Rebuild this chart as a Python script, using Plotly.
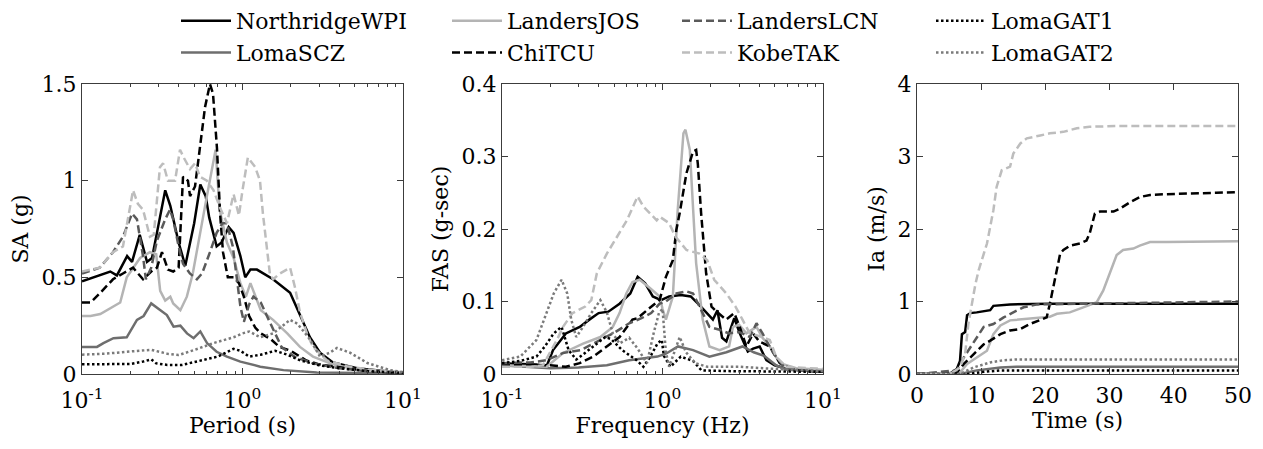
import plotly.graph_objects as go

# ---------------- Panel 1: spectral acceleration SA (g) vs period (s) ----------------
SA_T_NorthridgeWPI = [0.1, 0.13, 0.15, 0.165, 0.191, 0.205, 0.229, 0.254, 0.273, 0.293, 0.33, 0.355, 0.40, 0.44, 0.50, 0.546, 0.59, 0.62, 0.69, 0.74, 0.82, 0.88, 0.97, 1.04, 1.12, 1.23, 1.4, 1.55, 1.98, 2.28, 2.63, 3.04, 3.66, 5.17, 10]
SA_NorthridgeWPI = [0.48, 0.51, 0.53, 0.51, 0.61, 0.58, 0.72, 0.58, 0.60, 0.73, 0.95, 0.87, 0.68, 0.56, 0.78, 0.98, 0.92, 0.81, 0.66, 0.68, 0.76, 0.73, 0.61, 0.50, 0.54, 0.54, 0.51, 0.49, 0.42, 0.31, 0.19, 0.11, 0.06, 0.03, 0.005]

SA_T_LomaSCZ = [0.1, 0.124, 0.136, 0.157, 0.19, 0.22, 0.242, 0.27, 0.308, 0.338, 0.372, 0.41, 0.451, 0.496, 0.546, 0.601, 0.69, 0.80, 0.97, 1.29, 1.8, 2.9, 10]
SA_LomaSCZ = [0.14, 0.14, 0.16, 0.185, 0.19, 0.28, 0.30, 0.365, 0.33, 0.305, 0.245, 0.25, 0.21, 0.185, 0.22, 0.16, 0.115, 0.09, 0.064, 0.038, 0.02, 0.008, 0.003]

SA_T_LandersJOS = [0.1, 0.113, 0.13, 0.156, 0.173, 0.19, 0.21, 0.23, 0.265, 0.29, 0.307, 0.33, 0.355, 0.37, 0.41, 0.45, 0.49, 0.546, 0.60, 0.68, 0.72, 0.80, 0.88, 0.97, 1.05, 1.12, 1.2, 1.3, 1.55, 1.9, 2.28, 2.75, 3.66, 5, 10]
SA_LandersJOS = [0.30, 0.30, 0.31, 0.35, 0.37, 0.50, 0.55, 0.60, 0.63, 0.62, 0.43, 0.38, 0.40, 0.365, 0.33, 0.40, 0.52, 0.74, 0.92, 1.16, 0.85, 0.68, 0.60, 0.47, 0.40, 0.47, 0.40, 0.33, 0.28, 0.21, 0.14, 0.09, 0.05, 0.025, 0.008]

SA_T_ChiTCU = [0.1, 0.113, 0.13, 0.156, 0.18, 0.208, 0.24, 0.27, 0.293, 0.315, 0.343, 0.37, 0.40, 0.408, 0.426, 0.457, 0.471, 0.506, 0.543, 0.584, 0.627, 0.655, 0.693, 0.725, 0.756, 0.81, 0.88, 0.95, 1.02, 1.1, 1.2, 1.3, 1.5, 1.7, 2.0, 2.5, 3.0, 4.0, 6, 10]
SA_ChiTCU = [0.37, 0.37, 0.42, 0.49, 0.52, 0.55, 0.49, 0.53, 0.55, 0.63, 0.54, 0.53, 0.55, 0.71, 1.02, 1.0, 0.92, 0.97, 1.17, 1.38, 1.50, 1.45, 1.17, 0.83, 0.63, 0.50, 0.50, 0.47, 0.40, 0.30, 0.24, 0.21, 0.18, 0.14, 0.12, 0.07, 0.05, 0.035, 0.015, 0.005]

SA_T_LandersLCN = [0.1, 0.129, 0.156, 0.18, 0.205, 0.22, 0.24, 0.25, 0.27, 0.293, 0.33, 0.353, 0.37, 0.40, 0.426, 0.47, 0.52, 0.56, 0.627, 0.69, 0.75, 0.80, 0.87, 0.92, 0.97, 1.02, 1.1, 1.17, 1.3, 1.42, 1.55, 1.75, 2.1, 2.75, 4.0, 6, 10]
SA_LandersLCN = [0.52, 0.55, 0.63, 0.71, 0.83, 0.80, 0.61, 0.49, 0.55, 0.69, 0.80, 0.85, 0.80, 0.66, 0.57, 0.52, 0.49, 0.52, 0.63, 0.73, 0.78, 0.78, 0.66, 0.49, 0.35, 0.27, 0.36, 0.40, 0.37, 0.30, 0.23, 0.14, 0.09, 0.055, 0.03, 0.015, 0.005]

SA_T_KobeTAK = [0.1, 0.129, 0.156, 0.18, 0.208, 0.223, 0.24, 0.265, 0.28, 0.306, 0.32, 0.343, 0.38, 0.408, 0.43, 0.471, 0.506, 0.543, 0.60, 0.66, 0.725, 0.80, 0.88, 0.95, 1.0, 1.08, 1.2, 1.285, 1.34, 1.42, 1.48, 1.55, 1.71, 1.98, 2.12, 2.28, 2.52, 2.75, 3.36, 4.48, 6.5, 10]
SA_KobeTAK = [0.53, 0.55, 0.63, 0.66, 0.95, 0.88, 0.85, 0.71, 0.72, 1.07, 1.09, 1.0, 1.0, 1.16, 1.12, 1.06, 1.09, 1.02, 1.0, 0.95, 0.86, 0.78, 0.93, 0.82, 0.95, 1.12, 1.07, 1.0, 0.83, 0.66, 0.52, 0.49, 0.52, 0.55, 0.45, 0.32, 0.21, 0.14, 0.07, 0.04, 0.02, 0.01]

SA_T_LomaGAT1 = [0.1, 0.15, 0.2, 0.24, 0.27, 0.29, 0.34, 0.42, 0.55, 0.7, 0.88, 0.97, 1.1, 1.3, 1.6, 1.9, 2.3, 3, 4, 6, 10]
SA_LomaGAT1 = [0.05, 0.05, 0.052, 0.064, 0.076, 0.055, 0.047, 0.047, 0.07, 0.09, 0.13, 0.12, 0.09, 0.10, 0.12, 0.10, 0.07, 0.045, 0.03, 0.015, 0.006]

SA_T_LomaGAT2 = [0.1, 0.14, 0.19, 0.24, 0.27, 0.34, 0.40, 0.50, 0.66, 0.88, 1.0, 1.1, 1.29, 1.55, 1.98, 2.2, 2.63, 3.04, 3.5, 3.88, 4.68, 6, 8.3, 10]
SA_LomaGAT2 = [0.10, 0.105, 0.115, 0.12, 0.125, 0.105, 0.098, 0.124, 0.16, 0.19, 0.21, 0.22, 0.19, 0.21, 0.28, 0.26, 0.18, 0.09, 0.11, 0.135, 0.11, 0.057, 0.02, 0.01]

# ---------------- Panel 2: Fourier amplitude spectrum FAS (g-sec) vs frequency (Hz) ----------------
FAS_F_NorthridgeWPI = [0.1, 0.129, 0.164, 0.189, 0.208, 0.25, 0.305, 0.35, 0.40, 0.46, 0.54, 0.63, 0.70, 0.78, 0.87, 0.98, 1.1, 1.3, 1.5, 1.7, 1.9, 2.06, 2.2, 2.35, 2.5, 2.8, 3.03, 3.4, 3.67, 4.03, 4.44, 5.0, 6, 10]
FAS_NorthridgeWPI = [0.015, 0.014, 0.013, 0.01, 0.033, 0.056, 0.065, 0.075, 0.084, 0.086, 0.097, 0.111, 0.134, 0.125, 0.107, 0.102, 0.107, 0.109, 0.107, 0.095, 0.084, 0.075, 0.088, 0.05, 0.045, 0.077, 0.056, 0.031, 0.035, 0.038, 0.019, 0.012, 0.007, 0.003]

FAS_F_LomaSCZ = [0.1, 0.15, 0.2, 0.3, 0.45, 0.62, 0.93, 1.05, 1.25, 1.55, 1.96, 2.5, 3.15, 3.7, 4.3, 5.1, 6, 10]
FAS_LomaSCZ = [0.012, 0.01, 0.008, 0.009, 0.012, 0.019, 0.024, 0.028, 0.038, 0.033, 0.024, 0.03, 0.038, 0.03, 0.025, 0.012, 0.006, 0.003]

FAS_F_LandersJOS = [0.1, 0.15, 0.19, 0.24, 0.32, 0.41, 0.49, 0.54, 0.595, 0.65, 0.72, 0.82, 0.96, 1.0, 1.05, 1.16, 1.24, 1.35, 1.39, 1.48, 1.55, 1.62, 1.78, 1.96, 2.27, 2.6, 2.75, 3.0, 3.33, 3.85, 4.2, 4.66, 5.38, 6.8, 10]
FAS_LandersJOS = [0.012, 0.011, 0.01, 0.029, 0.042, 0.051, 0.065, 0.084, 0.111, 0.127, 0.13, 0.12, 0.107, 0.09, 0.075, 0.107, 0.222, 0.332, 0.337, 0.309, 0.23, 0.153, 0.075, 0.038, 0.033, 0.038, 0.065, 0.068, 0.056, 0.065, 0.05, 0.038, 0.015, 0.008, 0.006]

FAS_F_ChiTCU = [0.1, 0.15, 0.2, 0.25, 0.305, 0.37, 0.45, 0.54, 0.65, 0.70, 0.80, 0.96, 1.01, 1.05, 1.16, 1.22, 1.28, 1.41, 1.55, 1.62, 1.66, 1.74, 1.87, 2.02, 2.2, 2.49, 2.8, 3.03, 3.33, 3.67, 4.0, 4.66, 5.38, 6.5, 10]
FAS_ChiTCU = [0.013, 0.013, 0.012, 0.01, 0.015, 0.024, 0.038, 0.051, 0.075, 0.077, 0.088, 0.102, 0.12, 0.134, 0.157, 0.199, 0.222, 0.277, 0.307, 0.309, 0.29, 0.222, 0.139, 0.093, 0.085, 0.075, 0.084, 0.065, 0.038, 0.056, 0.045, 0.038, 0.015, 0.006, 0.003]

FAS_F_LandersLCN = [0.1, 0.15, 0.19, 0.24, 0.31, 0.41, 0.51, 0.62, 0.74, 0.85, 0.93, 0.96, 1.05, 1.22, 1.41, 1.55, 1.78, 1.96, 2.27, 2.6, 3.0, 3.5, 3.85, 4.2, 4.9, 5.7, 7, 10]
FAS_LandersLCN = [0.015, 0.016, 0.019, 0.029, 0.033, 0.047, 0.058, 0.07, 0.077, 0.084, 0.093, 0.097, 0.10, 0.111, 0.114, 0.111, 0.084, 0.065, 0.061, 0.056, 0.058, 0.051, 0.07, 0.056, 0.029, 0.01, 0.005, 0.003]

FAS_F_KobeTAK = [0.1, 0.15, 0.18, 0.22, 0.24, 0.275, 0.33, 0.36, 0.39, 0.45, 0.52, 0.60, 0.70, 0.76, 0.92, 0.96, 1.1, 1.2, 1.41, 1.7, 1.9, 2.1, 2.5, 2.85, 3.15, 3.5, 4.03, 4.66, 5.1, 5.9, 10]
FAS_KobeTAK = [0.01, 0.01, 0.012, 0.047, 0.065, 0.084, 0.093, 0.102, 0.139, 0.166, 0.189, 0.212, 0.245, 0.231, 0.212, 0.217, 0.208, 0.19, 0.171, 0.166, 0.157, 0.13, 0.111, 0.093, 0.075, 0.056, 0.052, 0.047, 0.024, 0.01, 0.007]

FAS_F_LomaGAT1 = [0.1, 0.13, 0.164, 0.185, 0.21, 0.235, 0.26, 0.29, 0.32, 0.39, 0.44, 0.48, 0.56, 0.69, 0.76, 0.84, 0.93, 0.99, 1.02, 1.12, 1.3, 1.55, 1.75, 2.5, 10]
FAS_LomaGAT1 = [0.015, 0.018, 0.024, 0.038, 0.056, 0.065, 0.033, 0.02, 0.027, 0.042, 0.051, 0.048, 0.033, 0.019, 0.01, 0.024, 0.042, 0.047, 0.025, 0.01, 0.024, 0.018, 0.005, 0.004, 0.003]

FAS_F_LomaGAT2 = [0.1, 0.13, 0.164, 0.19, 0.21, 0.235, 0.255, 0.27, 0.29, 0.32, 0.36, 0.41, 0.45, 0.49, 0.54, 0.62, 0.70, 0.80, 0.88, 0.95, 1.0, 1.05, 1.1, 1.28, 1.4, 1.6, 1.9, 3, 5, 10]
FAS_LomaGAT2 = [0.019, 0.024, 0.047, 0.084, 0.111, 0.13, 0.111, 0.075, 0.051, 0.065, 0.084, 0.102, 0.085, 0.056, 0.042, 0.05, 0.035, 0.015, 0.056, 0.084, 0.09, 0.03, 0.01, 0.051, 0.03, 0.015, 0.01, 0.01, 0.007, 0.004]

# ---------------- Panel 3: Arias intensity Ia (m/s) vs time (s) ----------------
IA_T_NorthridgeWPI = [0, 5.2, 6.2, 6.7, 7.0, 7.5, 7.8, 8.3, 9.3, 11.4, 11.9, 14.5, 20.7, 50]
IA_NorthridgeWPI = [0, 0.01, 0.07, 0.18, 0.55, 0.58, 0.81, 0.84, 0.85, 0.88, 0.94, 0.96, 0.97, 0.97]

IA_T_LomaSCZ = [0, 6.7, 9.3, 13.0, 15.5, 50]
IA_LomaSCZ = [0, 0, 0.05, 0.09, 0.10, 0.10]

IA_T_LandersJOS = [0, 6.7, 7.8, 9.3, 10.9, 11.9, 13.0, 14.5, 16.6, 18.7, 20.7, 21.8, 23.8, 25.9, 28.0, 29.0, 29.8, 30.6, 31.1, 32.1, 33.7, 34.7, 36.3, 38.9, 50]
IA_LandersJOS = [0, 0.02, 0.14, 0.23, 0.32, 0.55, 0.67, 0.74, 0.76, 0.78, 0.79, 0.83, 0.85, 0.92, 0.99, 1.15, 1.34, 1.52, 1.64, 1.71, 1.73, 1.77, 1.82, 1.82, 1.83]

IA_T_ChiTCU = [0, 6.2, 7.3, 8.3, 9.3, 10.4, 11.4, 13.0, 14.5, 16.1, 17.6, 19.2, 20.2, 20.7, 21.2, 21.8, 22.3, 22.8, 23.8, 25.4, 26.4, 26.9, 27.7, 28.5, 30.6, 31.6, 33.2, 34.7, 36.3, 38.9, 41.5, 46.6, 50]
IA_ChiTCU = [0, 0.02, 0.14, 0.23, 0.32, 0.41, 0.46, 0.55, 0.60, 0.62, 0.69, 0.74, 0.78, 0.97, 1.20, 1.43, 1.66, 1.71, 1.77, 1.80, 1.84, 1.94, 2.21, 2.24, 2.24, 2.28, 2.37, 2.44, 2.47, 2.48, 2.49, 2.50, 2.51]

IA_T_LandersLCN = [0, 6.2, 7.3, 8.3, 9.3, 10.4, 11.9, 13.5, 15.0, 16.6, 18.7, 25.9, 50]
IA_LandersLCN = [0, 0.05, 0.23, 0.37, 0.51, 0.65, 0.69, 0.78, 0.85, 0.92, 0.96, 0.97, 1.0]

IA_T_KobeTAK = [0, 5.2, 6.7, 7.5, 8.0, 8.5, 9.1, 9.6, 10.4, 10.9, 11.4, 11.9, 12.4, 13.2, 14.5, 15.0, 16.1, 17.1, 19.2, 20.7, 22.8, 24.9, 26.9, 31.1, 50]
IA_KobeTAK = [0, 0, 0.09, 0.28, 0.69, 0.97, 1.24, 1.43, 1.66, 1.80, 2.03, 2.26, 2.58, 2.81, 2.86, 3.04, 3.18, 3.25, 3.29, 3.32, 3.34, 3.39, 3.41, 3.42, 3.42]

IA_T_LomaGAT1 = [0, 7.8, 10.4, 13.0, 50]
IA_LomaGAT1 = [0, 0, 0.03, 0.05, 0.05]

IA_T_LomaGAT2 = [0, 6.7, 8.8, 11.4, 13.5, 15.5, 50]
IA_LomaGAT2 = [0, 0, 0.09, 0.16, 0.19, 0.20, 0.20]

# ---------------- series styles ----------------
NAMES = ["NorthridgeWPI", "LomaSCZ", "LandersJOS", "ChiTCU", "LandersLCN", "KobeTAK", "LomaGAT1", "LomaGAT2"]
COLORS = ["#000000", "#6e6e6e", "#b4b4b4", "#000000", "#5a5a5a", "#bdbdbd", "#000000", "#7a7a7a"]
DASHES = ["solid", "solid", "solid", "8px,4px", "8px,4px", "8px,4px", "2.5px,2.5px", "2.5px,2.5px"]
LEGENDS = ["legend", "legend", "legend2", "legend2", "legend3", "legend3", "legend4", "legend4"]

SA_DATA = {
    "NorthridgeWPI": (SA_T_NorthridgeWPI, SA_NorthridgeWPI),
    "LomaSCZ": (SA_T_LomaSCZ, SA_LomaSCZ),
    "LandersJOS": (SA_T_LandersJOS, SA_LandersJOS),
    "ChiTCU": (SA_T_ChiTCU, SA_ChiTCU),
    "LandersLCN": (SA_T_LandersLCN, SA_LandersLCN),
    "KobeTAK": (SA_T_KobeTAK, SA_KobeTAK),
    "LomaGAT1": (SA_T_LomaGAT1, SA_LomaGAT1),
    "LomaGAT2": (SA_T_LomaGAT2, SA_LomaGAT2),
}
FAS_DATA = {
    "NorthridgeWPI": (FAS_F_NorthridgeWPI, FAS_NorthridgeWPI),
    "LomaSCZ": (FAS_F_LomaSCZ, FAS_LomaSCZ),
    "LandersJOS": (FAS_F_LandersJOS, FAS_LandersJOS),
    "ChiTCU": (FAS_F_ChiTCU, FAS_ChiTCU),
    "LandersLCN": (FAS_F_LandersLCN, FAS_LandersLCN),
    "KobeTAK": (FAS_F_KobeTAK, FAS_KobeTAK),
    "LomaGAT1": (FAS_F_LomaGAT1, FAS_LomaGAT1),
    "LomaGAT2": (FAS_F_LomaGAT2, FAS_LomaGAT2),
}
IA_DATA = {
    "NorthridgeWPI": (IA_T_NorthridgeWPI, IA_NorthridgeWPI),
    "LomaSCZ": (IA_T_LomaSCZ, IA_LomaSCZ),
    "LandersJOS": (IA_T_LandersJOS, IA_LandersJOS),
    "ChiTCU": (IA_T_ChiTCU, IA_ChiTCU),
    "LandersLCN": (IA_T_LandersLCN, IA_LandersLCN),
    "KobeTAK": (IA_T_KobeTAK, IA_KobeTAK),
    "LomaGAT1": (IA_T_LomaGAT1, IA_LomaGAT1),
    "LomaGAT2": (IA_T_LomaGAT2, IA_LomaGAT2),
}

FONT = "DejaVu Serif"
W, H = 1263, 449

fig = go.Figure()
LW = 2.5
for i, name in enumerate(NAMES):
    style = dict(color=COLORS[i], width=LW, dash=DASHES[i])
    x, y = SA_DATA[name]
    fig.add_trace(go.Scatter(x=x, y=y, mode="lines", name=name, line=style,
                             xaxis="x", yaxis="y", legend=LEGENDS[i], showlegend=True))
    x, y = FAS_DATA[name]
    fig.add_trace(go.Scatter(x=x, y=y, mode="lines", name=name, line=style,
                             xaxis="x2", yaxis="y2", showlegend=False))
    x, y = IA_DATA[name]
    fig.add_trace(go.Scatter(x=x, y=y, mode="lines", name=name, line=style,
                             xaxis="x3", yaxis="y3", showlegend=False))

def px_x(v):
    return v / W

def px_y(v):
    return 1 - v / H

AX = dict(showline=True, linecolor="#3c3c3c", linewidth=1, mirror="allticks",
          ticks="inside", ticklen=6, tickcolor="#3c3c3c", showgrid=False, zeroline=False,
          tickfont=dict(family=FONT, size=22, color="black"), automargin=False)

LOG_MINOR = [0.2, 0.3, 0.4, 0.5, 0.6, 0.7, 0.8, 0.9, 2, 3, 4, 5, 6, 7, 8, 9]
LOG_TICKS = [0.1, 1, 10]
LOG_TEXT = ["10<sup>-1</sup>", "10<sup>0</sup>", "10<sup>1</sup>"]

ydom = [px_y(374), px_y(84)]
title_font = dict(family=FONT, size=22, color="black")

fig.update_layout(
    width=W, height=H,
    margin=dict(l=0, r=0, t=0, b=0),
    paper_bgcolor="white", plot_bgcolor="white",
    font=dict(family=FONT, size=22, color="black"),
    xaxis=dict(AX, type="log", range=[-1, 1], domain=[px_x(82), px_x(403)], anchor="y",
               tickvals=LOG_TICKS, ticktext=LOG_TEXT, ticklabelstandoff=7,
               minor=dict(tickvals=LOG_MINOR, ticks="inside", ticklen=3, tickcolor="#3c3c3c"),
               title=dict(text="Period (s)", font=title_font, standoff=0)),
    yaxis=dict(AX, range=[0, 1.5], domain=ydom, anchor="x",
               tickvals=[0, 0.5, 1, 1.5], ticktext=["0", "0.5", "1", "1.5"],
               title=dict(text="SA (g)", font=title_font, standoff=6)),
    xaxis2=dict(AX, type="log", range=[-1, 1], domain=[px_x(502), px_x(823)], anchor="y2",
                tickvals=LOG_TICKS, ticktext=LOG_TEXT, ticklabelstandoff=7,
                minor=dict(tickvals=LOG_MINOR, ticks="inside", ticklen=3, tickcolor="#3c3c3c"),
                title=dict(text="Frequency (Hz)", font=title_font, standoff=0)),
    yaxis2=dict(AX, range=[0, 0.4], domain=ydom, anchor="x2",
                tickvals=[0, 0.1, 0.2, 0.3, 0.4], ticktext=["0", "0.1", "0.2", "0.3", "0.4"],
                title=dict(text="FAS (g-sec)", font=title_font, standoff=6)),
    xaxis3=dict(AX, range=[0, 50], domain=[px_x(917), px_x(1238)], anchor="y3",
                tickvals=[0, 10, 20, 30, 40, 50], ticklabelstandoff=2,
                title=dict(text="Time (s)", font=title_font, standoff=0)),
    yaxis3=dict(AX, range=[0, 4], domain=ydom, anchor="x3",
                tickvals=[0, 1, 2, 3, 4],
                title=dict(text="Ia (m/s)", font=title_font, standoff=6)),
)

LEG = dict(orientation="v", xanchor="left", yanchor="top", bgcolor="rgba(0,0,0,0)",
           borderwidth=0, font=dict(family=FONT, size=22, color="black"),
           itemwidth=50, tracegroupgap=0)
fig.update_layout(
    legend=dict(LEG, x=px_x(176), y=px_y(0)),
    legend2=dict(LEG, x=px_x(447), y=px_y(0)),
    legend3=dict(LEG, x=px_x(677), y=px_y(0)),
    legend4=dict(LEG, x=px_x(931), y=px_y(0)),
)

fig.write_html("out.html")
